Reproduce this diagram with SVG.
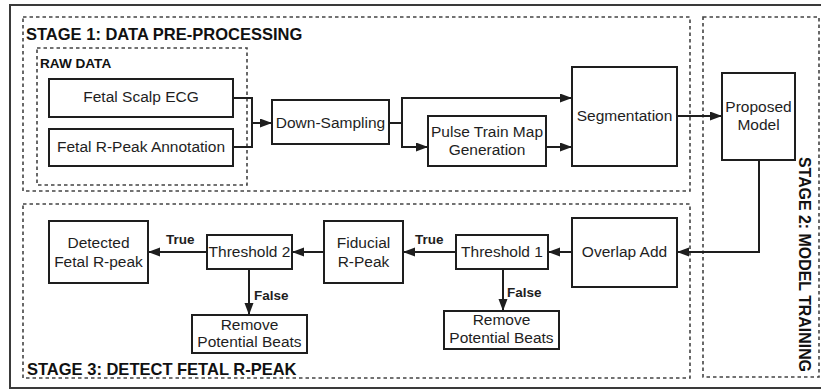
<svg xmlns="http://www.w3.org/2000/svg" width="821" height="389" viewBox="0 0 821 389">
  <style>
    .frame { fill: none; stroke: #3a3a3a; stroke-width: 2; }
    .stage { fill: none; stroke: #444; stroke-width: 1.6; stroke-dasharray: 3.5 3; }
    .box { fill: #fff; stroke: #1e1e1e; stroke-width: 2; }
    .edge { fill: none; stroke: #1e1e1e; stroke-width: 2; }
    .lbl { font-family: "Liberation Sans", Arial, sans-serif; font-size: 15.5px; fill: #1e1e1e; text-anchor: middle; }
    .title { font-family: "Liberation Sans", Arial, sans-serif; font-size: 16.5px; font-weight: bold; fill: #111; }
    .sub { font-family: "Liberation Sans", Arial, sans-serif; font-size: 13.6px; font-weight: bold; fill: #111; }
    .cond { font-family: "Liberation Sans", Arial, sans-serif; font-size: 13.5px; font-weight: bold; fill: #1e1e1e; }
  </style>
  <defs>
    <marker id="arrow" markerUnits="userSpaceOnUse" markerWidth="13" markerHeight="10" refX="12" refY="4.5" orient="auto">
      <path d="M0,0 L12,4.5 L0,9 z" fill="#1e1e1e"/>
    </marker>
  </defs>

  <rect width="821" height="389" fill="#fff"/>

  <!-- outer frame -->
  <path class="frame" d="M823,5 H10 V388 H823"/>

  <!-- stage containers -->
  <g id="stage1">
    <rect class="stage" x="23" y="17" width="667" height="174"/>
    <text class="title" x="26" y="40">STAGE 1: DATA PRE-PROCESSING</text>
  </g>
  <g id="stage2">
    <rect class="stage" x="703" y="17" width="116" height="360"/>
    <text class="title" transform="translate(799,157) rotate(90)" textLength="215" lengthAdjust="spacingAndGlyphs">STAGE 2: MODEL TRAINING</text>
  </g>
  <g id="stage3">
    <rect class="stage" x="23" y="204" width="667" height="174"/>
    <text class="title" x="27" y="375">STAGE 3: DETECT FETAL R-PEAK</text>
  </g>
  <g id="raw-data">
    <rect class="stage" x="37" y="48" width="210" height="137"/>
    <text class="sub" x="40" y="68">RAW DATA</text>
  </g>

  <!-- connectors -->
  <g id="connectors">
    <path class="edge" d="M233,98 H252 V147 H233"/>
    <path class="edge" d="M252,123 H272" marker-end="url(#arrow)"/>
    <path class="edge" d="M389,123 H402"/>
    <path class="edge" d="M402,98 V147"/>
    <path class="edge" d="M401,98 H572" marker-end="url(#arrow)"/>
    <path class="edge" d="M401,147 H428" marker-end="url(#arrow)"/>
    <path class="edge" d="M546,147 H572" marker-end="url(#arrow)"/>
    <path class="edge" d="M677,116 H722" marker-end="url(#arrow)"/>
    <path class="edge" d="M759,160 V252 H677" marker-end="url(#arrow)"/>
    <path class="edge" d="M572,252 H548" marker-end="url(#arrow)"/>
    <path class="edge" d="M456,252 H403" marker-end="url(#arrow)"/>
    <path class="edge" d="M324,252 H292" marker-end="url(#arrow)"/>
    <path class="edge" d="M207,252 H148" marker-end="url(#arrow)"/>
    <path class="edge" d="M503,269 V311" marker-end="url(#arrow)"/>
    <path class="edge" d="M249,269 V315" marker-end="url(#arrow)"/>
    <text class="cond" x="415" y="244">True</text>
    <text class="cond" x="166" y="244">True</text>
    <text class="cond" x="507" y="297">False</text>
    <text class="cond" x="254" y="300">False</text>
  </g>

  <!-- nodes -->
  <g id="fetal-scalp-ecg">
    <rect class="box" x="49" y="79" width="184" height="38"/>
    <text class="lbl" x="141" y="102">Fetal Scalp ECG</text>
  </g>
  <g id="fetal-rpeak-annotation">
    <rect class="box" x="49" y="129" width="184" height="37"/>
    <text class="lbl" x="141" y="152">Fetal R-Peak Annotation</text>
  </g>
  <g id="down-sampling">
    <rect class="box" x="272" y="100" width="117" height="44"/>
    <text class="lbl" x="330.5" y="128">Down-Sampling</text>
  </g>
  <g id="pulse-train">
    <rect class="box" x="428" y="116" width="118" height="50"/>
    <text class="lbl" x="487" y="137">Pulse Train Map</text>
    <text class="lbl" x="487" y="155">Generation</text>
  </g>
  <g id="segmentation">
    <rect class="box" x="572" y="67" width="105" height="99"/>
    <text class="lbl" x="624.5" y="121">Segmentation</text>
  </g>
  <g id="proposed-model">
    <rect class="box" x="722" y="73" width="73" height="87"/>
    <text class="lbl" x="758.5" y="112">Proposed</text>
    <text class="lbl" x="758.5" y="130">Model</text>
  </g>
  <g id="overlap-add">
    <rect class="box" x="572" y="218" width="105" height="69"/>
    <text class="lbl" x="624.5" y="257">Overlap Add</text>
  </g>
  <g id="threshold-1">
    <rect class="box" x="456" y="235" width="92" height="34"/>
    <text class="lbl" x="502" y="257">Threshold 1</text>
  </g>
  <g id="remove-beats-1">
    <rect class="box" x="444" y="311" width="115" height="38"/>
    <text class="lbl" x="501.5" y="325">Remove</text>
    <text class="lbl" x="501.5" y="343">Potential Beats</text>
  </g>
  <g id="fiducial-rpeak">
    <rect class="box" x="324" y="221" width="79" height="62"/>
    <text class="lbl" x="363.5" y="248">Fiducial</text>
    <text class="lbl" x="363.5" y="267">R-Peak</text>
  </g>
  <g id="threshold-2">
    <rect class="box" x="207" y="235" width="85" height="34"/>
    <text class="lbl" x="249.5" y="257">Threshold 2</text>
  </g>
  <g id="remove-beats-2">
    <rect class="box" x="192" y="315" width="115" height="38"/>
    <text class="lbl" x="249.5" y="330">Remove</text>
    <text class="lbl" x="249.5" y="347">Potential Beats</text>
  </g>
  <g id="detected-rpeak">
    <rect class="box" x="49" y="221" width="99" height="62"/>
    <text class="lbl" x="98.5" y="248">Detected</text>
    <text class="lbl" x="98.5" y="267">Fetal R-peak</text>
  </g>
</svg>
